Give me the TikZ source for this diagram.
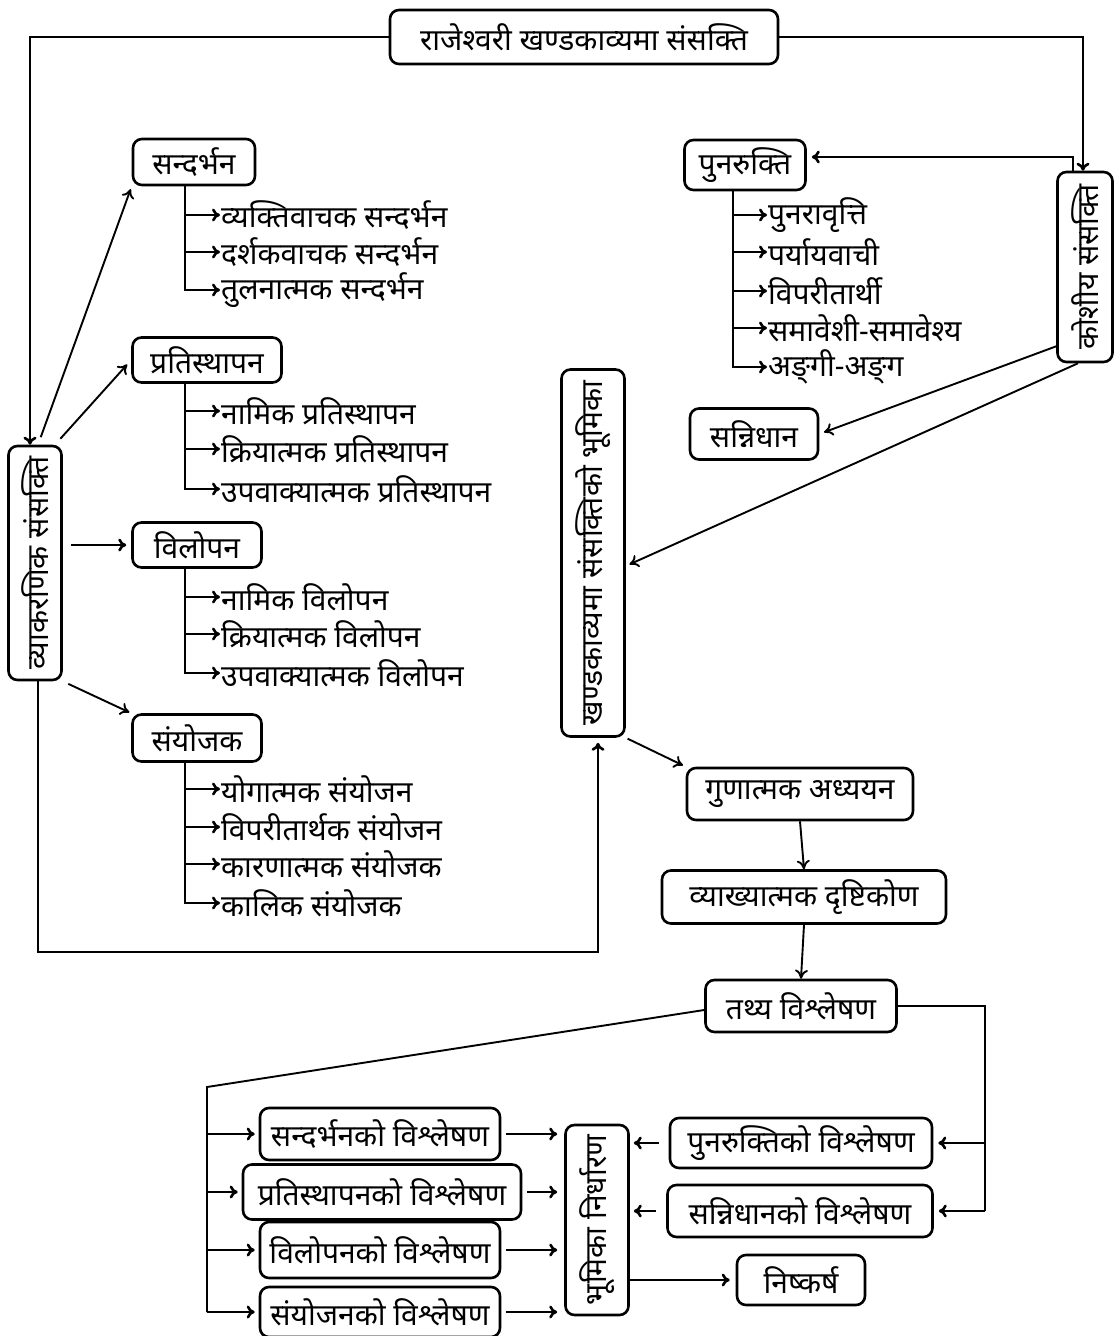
\documentclass[tikz,border=0pt]{standalone}
\usepackage{fontspec}
\newfontfamily\dev[Script=Devanagari]{Noto Sans}
\usetikzlibrary{arrows.meta}
\begin{document}
\begin{tikzpicture}[x=1pt,y=-1pt,
  bx/.style={draw,rounded corners=9pt,line width=2.6pt,inner sep=0pt,align=center,font=\dev\fontsize{30}{34}\selectfont},
  vt/.style={rotate=90,inner sep=0pt,font=\dev\fontsize{30}{34}\selectfont},
  it/.style={anchor=west,inner sep=1pt,font=\dev\fontsize{30}{34}\selectfont},
  ln/.style={line width=2.6pt},
  arr/.style={line width=2.6pt,-{To[length=8pt,width=13pt]}},
  tarr/.style={line width=1.9pt,-{To[length=9pt,width=13pt]}}]
\useasboundingbox (0,0) rectangle (1115,1336);
% boxes
\node[bx,minimum width=388pt,minimum height=54pt] (title) at (584,37) {राजेश्वरी खण्डकाव्यमा संसक्ति};
\node[bx,minimum width=122pt,minimum height=46pt] (sb) at (194,162) {सन्दर्भन};
\node[bx,minimum width=149pt,minimum height=45pt] (pr) at (207,360) {प्रतिस्थापन};
\node[bx,minimum width=129pt,minimum height=45pt] (vi) at (197,545) {विलोपन};
\node[bx,minimum width=129pt,minimum height=47pt] (sy) at (197,738) {संयोजक};
\node[bx,minimum width=53pt,minimum height=234pt] (vy) at (35,563) {};
\node[vt] at (vy) {व्याकरणिक संसक्ति};
\node[bx,minimum width=55pt,minimum height=190pt] (ko) at (1085,267) {};
\node[vt] at (ko) {कोशीय संसक्ति};
\node[bx,minimum width=121pt,minimum height=50pt] (pu) at (745,165) {पुनरुक्ति};
\node[bx,minimum width=128pt,minimum height=51pt] (sn) at (754,434) {सन्निधान};
\node[bx,minimum width=63pt,minimum height=367pt] (kh) at (593,553) {};
\node[vt] at (kh) {खण्डकाव्यमा संसक्तिको भूमिका};
\node[bx,minimum width=226pt,minimum height=52pt] (gu) at (800,794) {गुणात्मक अध्ययन};
\node[bx,minimum width=284pt,minimum height=53pt] (vya) at (804,897) {व्याख्यात्मक दृष्टिकोण};
\node[bx,minimum width=191pt,minimum height=52pt] (ta) at (801,1006) {तथ्य विश्लेषण};
\node[bx,minimum width=240pt,minimum height=52pt] (a1) at (380,1134) {सन्दर्भनको विश्लेषण};
\node[bx,minimum width=278pt,minimum height=55pt] (a2) at (382,1192) {प्रतिस्थापनको विश्लेषण};
\node[bx,minimum width=240pt,minimum height=56pt] (a3) at (380,1250) {विलोपनको विश्लेषण};
\node[bx,minimum width=240pt,minimum height=50pt] (a4) at (380,1312) {संयोजनको विश्लेषण};
\node[bx,minimum width=63pt,minimum height=190pt] (bn) at (597,1220) {};
\node[vt] at (bn) {भूमिका निर्धारण};
\node[bx,minimum width=262pt,minimum height=50pt] (r1) at (801,1143) {पुनरुक्तिको विश्लेषण};
\node[bx,minimum width=265pt,minimum height=52pt] (r2) at (800,1211) {सन्निधानको विश्लेषण};
\node[bx,minimum width=128pt,minimum height=50pt] (ni) at (801,1280) {निष्कर्ष};
% list items
\node[it] (s1) at (220,215) {व्यक्तिवाचक सन्दर्भन};
\node[it] (s2) at (220,252) {दर्शकवाचक सन्दर्भन};
\node[it] (s3) at (220,290) {तुलनात्मक सन्दर्भन};
\node[it] (p1) at (220,411) {नामिक प्रतिस्थापन};
\node[it] (p2) at (220,449) {क्रियात्मक प्रतिस्थापन};
\node[it] (p3) at (220,489) {उपवाक्यात्मक प्रतिस्थापन};
\node[it] (v1) at (220,597) {नामिक विलोपन};
\node[it] (v2) at (220,634) {क्रियात्मक विलोपन};
\node[it] (v3) at (220,673) {उपवाक्यात्मक विलोपन};
\node[it] (y1) at (220,789) {योगात्मक संयोजन};
\node[it] (y2) at (220,827) {विपरीतार्थक संयोजन};
\node[it] (y3) at (220,864) {कारणात्मक संयोजक};
\node[it] (y4) at (220,903) {कालिक संयोजक};
\node[it] (u1) at (767,215) {पुनरावृत्ति};
\node[it] (u2) at (767,252) {पर्यायवाची};
\node[it] (u3) at (767,291) {विपरीतार्थी};
\node[it] (u4) at (767,328) {समावेशी-समावेश्य};
\node[it] (u5) at (767,367) {अङ्^^^^200cगी-अङ्^^^^200cग};
% list trunks
\coordinate (st) at ([xshift=-9pt]sb.south);
\draw[arr] (st) |- (s3.west);
\foreach \n in {s1,s2} \draw[arr] (st |- \n.west) -- (\n.west);
\coordinate (pt) at ([xshift=-22pt]pr.south);
\draw[arr] (pt) |- (p3.west);
\foreach \n in {p1,p2} \draw[arr] (pt |- \n.west) -- (\n.west);
\coordinate (vt) at ([xshift=-12pt]vi.south);
\draw[arr] (vt) |- (v3.west);
\foreach \n in {v1,v2} \draw[arr] (vt |- \n.west) -- (\n.west);
\coordinate (yt) at ([xshift=-12pt]sy.south);
\draw[arr] (yt) |- (y4.west);
\foreach \n in {y1,y2,y3} \draw[arr] (yt |- \n.west) -- (\n.west);
\coordinate (ut) at ([xshift=-12pt]pu.south);
\draw[arr] (ut) |- (u5.west);
\foreach \n in {u1,u2,u3,u4} \draw[arr] (ut |- \n.west) -- (\n.west);
% top connectors
\draw[arr] (title.west) -| ([xshift=-5pt]vy.north);
\draw[arr] (title.east) -| ([xshift=-2pt]ko.north);
\draw[arr,shorten >=5pt] ([xshift=-12pt]ko.north) |- ([yshift=8pt]pu.east);
\draw[tarr,shorten >=5pt] ([yshift=17pt]ko.south west) -- (sn.east);
\draw[tarr,shorten >=4pt] ([xshift=-7pt]ko.south) -- ([yshift=-13pt]kh.east);
% left connectors
\draw[tarr,shorten <=8pt,shorten >=3pt] ([xshift=3pt]vy.north) -- (sb.south west);
\draw[tarr,shorten <=8pt,shorten >=6pt] ([xshift=20pt]vy.north) -- (pr.west);
\draw[arr,shorten <=8pt,shorten >=5pt] (vi.west -| vy.east) -- (vi.west);
\draw[tarr,shorten <=6pt,shorten >=2pt] (vy.south east) -- (sy.north west);
\coordinate (fr) at (300,952);
\draw[arr,shorten >=5pt] ([xshift=3pt]vy.south) |- (fr) -| ([xshift=5pt]kh.south);
% middle chain
\draw[tarr,shorten <=2pt,shorten >=3pt] (kh.south east) -- (gu.north west);
\draw[tarr] (gu.south) -- (vya.north);
\draw[tarr] (vya.south) -- (ta.north);
% bottom
\coordinate (lb) at (207,1087);
\draw[line width=1.9pt] ([yshift=-4pt]ta.west) -- (lb) -- (lb |- a4.west);
\foreach \n in {a1,a2,a3,a4} \draw[arr,shorten >=4pt] (lb |- \n.west) -- (\n.west);
\coordinate (rb) at (985,1006);
\draw[ln] (ta.east) -- (rb) -- (rb |- r2.east);
\foreach \n in {r1,r2} \draw[arr,shorten >=5pt] (rb |- \n.east) -- (\n.east);
\foreach \n in {a1,a2,a3,a4} \draw[arr,shorten <=5pt,shorten >=7pt] (\n.east) -- (\n.east -| bn.west);
\foreach \n in {r1,r2} \draw[arr,shorten <=10pt,shorten >=4pt] (\n.west) -- (\n.west -| bn.east);
\draw[arr,shorten >=6pt] (bn.east |- ni.west) -- (ni.west);
\end{tikzpicture}
\end{document}
